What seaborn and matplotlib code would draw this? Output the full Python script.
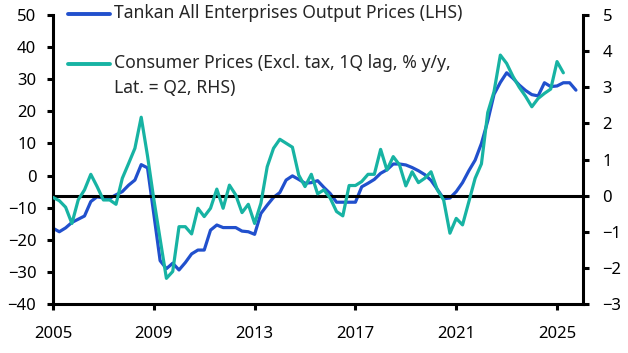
import numpy as np
import pandas as pd
import matplotlib
matplotlib.use("Agg")
import matplotlib.pyplot as plt
import seaborn as sns
from matplotlib.lines import Line2D

# ---- data (quarterly, starting 2005 Q1) ----
start_year = 2005.0
tankan = [-16.4, -17.5, -16.3, -14.6, -13.6, -12.6, -8.1, -6.6, -7.0, -7.1,
          -6.0, -5.0, -3.0, -1.4, 3.4, 2.4, -12.0, -26.5, -29.0, -27.3,
          -29.4, -27.1, -24.4, -23.2, -23.2, -17.0, -15.4, -16.2, -16.2, -16.2,
          -17.3, -17.5, -18.3, -11.8, -9.2, -6.8, -5.3, -1.4, -0.1, -1.2,
          -2.4, -2.2, -1.6, -3.7, -5.6, -8.3, -8.3, -8.3, -8.3, -3.5,
          -2.4, -1.2, 0.7, 1.8, 3.6, 3.6, 3.3, 2.5, 1.5, 0.3,
          -1.5, -4.3, -7.2, -7.0, -5.0, -2.2, 1.5, 4.8, 10.0, 17.0,
          25.3, 29.0, 32.0, 30.3, 28.2, 26.5, 25.2, 24.8, 28.9, 27.7,
          27.9, 28.9, 28.9, 26.6]
cpi = [-0.05, -0.14, -0.32, -0.77, -0.12, 0.16, 0.59, 0.25, -0.12, -0.12,
       -0.24, 0.48, 0.89, 1.31, 2.17, 1.1, -0.1, -1.2, -2.29, -2.1,
       -0.86, -0.86, -1.06, -0.35, -0.58, -0.35, 0.18, -0.35, 0.29, 0.02,
       -0.47, -0.24, -0.77, -0.21, 0.8, 1.31, 1.56, 1.45, 1.34, 0.57,
       0.25, 0.59, 0.05, 0.16, -0.07, -0.44, -0.56, 0.28, 0.28, 0.39,
       0.59, 0.59, 1.28, 0.71, 1.08, 0.85, 0.27, 0.66, 0.36, 0.48,
       0.66, 0.16, -0.12, -1.04, -0.63, -0.81, -0.17, 0.48, 0.88, 2.3,
       2.88, 3.89, 3.66, 3.3, 3.0, 2.75, 2.46, 2.69, 2.83, 2.95,
       3.71, 3.4]
xticks = [2005, 2009, 2013, 2017, 2021, 2025]
left_ticks = [-40, -30, -20, -10, 0, 10, 20, 30, 40, 50]
right_ticks = [-3, -2, -1, 0, 1, 2, 3, 4, 5]
label_tankan = "Tankan All Enterprises Output Prices (LHS)"
label_cpi_1 = "Consumer Prices (Excl. tax, 1Q lag, % y/y,"
label_cpi_2 = "Lat. = Q2, RHS)"

df_t = pd.DataFrame({"date": start_year + np.arange(len(tankan)) * 0.25, "val": tankan})
df_c = pd.DataFrame({"date": start_year + np.arange(len(cpi)) * 0.25, "val": cpi})

BLUE = "#2150CD"
TEAL = "#17B3A3"

sns.set_style("ticks")
plt.rcParams["font.family"] = ["Noto Sans", "DejaVu Sans"]
plt.rcParams["font.size"] = 12

fig = plt.figure(figsize=(6.28, 3.53), dpi=100)
ax = fig.add_axes([53 / 628, 1 - 304 / 353, 530 / 628, 289 / 353])
ax2 = ax.twinx()

sns.lineplot(data=df_t, x="date", y="val", ax=ax, color=BLUE, linewidth=2.3)
sns.lineplot(data=df_c, x="date", y="val", ax=ax2, color=TEAL, linewidth=2.3)

ax.set_xlim(2005, 2026.03)
ax.set_ylim(-40, 50)
ax2.set_ylim(-3, 5)
ax.set_xticks(xticks)
ax.set_xticklabels([str(t) for t in xticks])
ax.set_yticks(left_ticks)
ax2.set_yticks(right_ticks)
for a in (ax, ax2):
    a.set_xlabel("")
    a.set_ylabel("")

ax2.axhline(0, color="black", linewidth=2.2, zorder=1)

for a in (ax, ax2):
    a.spines["top"].set_visible(False)
    for s in ("left", "right", "bottom"):
        a.spines[s].set_linewidth(2.2)
        a.spines[s].set_color("black")
    a.tick_params(axis="both", which="major", length=4, width=2.2,
                  direction="out", labelsize=12, colors="black")
ax.spines["right"].set_visible(False)
ax2.spines["left"].set_visible(False)
ax2.spines["bottom"].set_visible(False)
ax.tick_params(axis="x", pad=12)
ax.tick_params(axis="y", pad=8)
ax2.tick_params(axis="y", pad=10)

# custom legend in figure coordinates
def fx(px):
    return px / 628

def fy(py):
    return 1 - py / 353

LEG_FS = 12.65
fig.lines.append(Line2D([fx(68), fx(110)], [fy(13.5), fy(13.5)], color=BLUE,
                        linewidth=2.8, transform=fig.transFigure))
fig.lines.append(Line2D([fx(68), fx(110)], [fy(63.5), fy(63.5)], color=TEAL,
                        linewidth=2.8, transform=fig.transFigure))
fig.text(fx(114), fy(13.5), label_tankan, ha="left", va="center", fontsize=LEG_FS)
fig.text(fx(114), fy(63.5), label_cpi_1, ha="left", va="center", fontsize=LEG_FS)
fig.text(fx(114), fy(87.5), label_cpi_2, ha="left", va="center", fontsize=LEG_FS)

fig.savefig("out.png", dpi=100)
